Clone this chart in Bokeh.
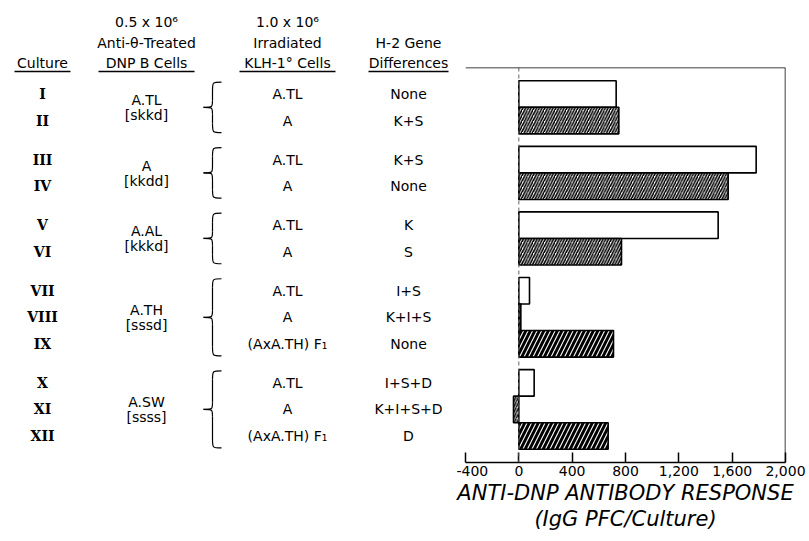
from bokeh.plotting import figure
from bokeh.models import (ColumnDataSource, FactorRange, Range1d, Span, LinearAxis,
                          FixedTicker, NumeralTickFormatter, Title)
from bokeh.layouts import row
from bokeh.embed import file_html
from bokeh.resources import INLINE
from bokeh.core.properties import value

# ---------------- data ----------------
cultures = ["I", "II", "III", "IV", "V", "VI", "VII", "VIII", "IX", "X", "XI", "XII"]
group_ids = ["1", "1", "2", "2", "3", "3", "4", "4", "4", "5", "5", "5"]
b_cell_strains = ["A.TL", "A", "A.AL", "A.TH", "A.SW"]
b_cell_haplotypes = ["[skkd]", "[kkdd]", "[kkkd]", "[sssd]", "[ssss]"]
helper_cells = ["A.TL", "A", "A.TL", "A", "A.TL", "A", "A.TL", "A", "(AxA.TH) F\u2081",
                "A.TL", "A", "(AxA.TH) F\u2081"]
gene_differences = ["None", "K+S", "K+S", "None", "K", "S", "I+S", "K+I+S", "None",
                    "I+S+D", "K+I+S+D", "D"]
response = [730, 750, 1780, 1570, 1495, 770, 80, 15, 710, 115, -40, 670]
x_ticks = [-400, 0, 400, 800, 1200, 1600, 2000]

header_culture = "Culture"
header_b = ["0.5 x 10\u2076", "Anti-\u03b8-Treated", "DNP B Cells"]
header_helper = ["1.0 x 10\u2076", "Irradiated", "KLH-1\u00b0 Cells"]
header_genes = ["H-2 Gene", "Differences"]
x_title = ["ANTI-DNP ANTIBODY RESPONSE", "(IgG PFC/Culture)"]

# ---------------- layout constants ----------------
H = 538
W_LEFT, W_RIGHT = 456, 350
PAGE_X0, PAGE_Y0 = 0, 0
FRAME_LEFT, FRAME_RIGHT = 465, 785
FRAME_TOP, FRAME_BOTTOM = 67, 462
GROUP_PAD, PAD_EACH = 0.47, 0.5
FONT = "DejaVu Sans"

group_order = []
for gid in group_ids:
    if gid not in group_order:
        group_order.append(gid)
gidx = [group_order.index(g) for g in group_ids]
n_rows, n_groups = len(cultures), len(group_order)
span_units = n_rows + GROUP_PAD * (n_groups - 1)
slot = (FRAME_BOTTOM - FRAME_TOP) / (span_units + 2 * PAD_EACH)
row_y = [FRAME_TOP + slot * (PAD_EACH + i + 0.5 + GROUP_PAD * g) for i, g in enumerate(gidx)]

# ---------------- bar chart ----------------
factors = list(zip(group_ids, cultures))
yr = FactorRange(factors=list(reversed(factors)), factor_padding=0.0, group_padding=GROUP_PAD,
                 range_padding=PAD_EACH, range_padding_units="absolute")

styles = {
    "A.TL": ("white", " ", "black", 12, 1.0),
    "A": ("white", "/", "black", 5.5, 1.6),
}
dark = ("black", "/", "white", 9, 1.1)
fills, hatches, hcolors, hscales, hweights = [], [], [], [], []
for hc in helper_cells:
    st = styles.get(hc, dark)
    fills.append(st[0]); hatches.append(st[1]); hcolors.append(st[2])
    hscales.append(st[3]); hweights.append(st[4])

src = ColumnDataSource(dict(y=factors, v=response, fill=fills, hatch=hatches,
                            hcolor=hcolors, hscale=hscales, hweight=hweights))

x0_page = PAGE_X0 + W_LEFT
p = figure(width=W_RIGHT, height=H, x_range=Range1d(x_ticks[0], x_ticks[-1]), y_range=yr,
           output_backend="svg", toolbar_location=None, title=None,
           x_axis_location=None, y_axis_location=None,
           min_border_left=FRAME_LEFT - x0_page,
           min_border_right=x0_page + W_RIGHT - FRAME_RIGHT,
           min_border_top=FRAME_TOP - PAGE_Y0, min_border_bottom=PAGE_Y0 + H - FRAME_BOTTOM)
p.frame_align = False
p.grid.visible = False
p.outline_line_color = None
p.background_fill_color = "white"
p.border_fill_color = "white"

p.add_layout(Span(location=0, dimension="height", line_color="#666666",
                  line_dash="4 3", line_width=1))
p.hbar(y="y", left=0, right="v", height=1.0, source=src,
       fill_color="fill", hatch_pattern="hatch", hatch_color="hcolor",
       hatch_scale="hscale", hatch_weight="hweight",
       line_color="black", line_width=1.6)

xaxis = LinearAxis(ticker=FixedTicker(ticks=x_ticks),
                   formatter=NumeralTickFormatter(format="0,0"),
                   major_tick_in=10, major_tick_out=0, minor_tick_line_color=None,
                   axis_line_width=1.5, major_tick_line_width=1.5,
                   major_label_text_font=FONT, major_label_text_font_size="14px",
                   major_label_text_color="black", major_label_standoff=3)
p.add_layout(xaxis, "below")

# frame border: top and right edges
p.add_layout(Span(location=span_units + PAD_EACH, dimension="width",
                  line_color="black", line_width=1.5))
p.add_layout(Span(location=x_ticks[-1], dimension="height", line_color="black", line_width=1.5))

for txt in x_title:
    p.add_layout(Title(text=txt, align="center", text_font=FONT, text_font_style="italic",
                       text_font_size="21px", text_color="black", standoff=0), "below")

# ---------------- table ----------------
t = figure(width=W_LEFT, height=H, x_range=Range1d(PAGE_X0, PAGE_X0 + W_LEFT),
           y_range=Range1d(PAGE_Y0 + H, PAGE_Y0), output_backend="svg", toolbar_location=None,
           title=None, x_axis_location=None, y_axis_location=None, min_border=0)
t.frame_align = False
t.grid.visible = False
t.outline_line_color = None
t.background_fill_color = "white"
t.border_fill_color = "white"

X_NUM, X_B, X_BR, X_HELP, X_GENE = 42, 146, 212, 287, 408
HDR_Y = [21, 42, 62]
UL_Y = 71

# numerals
t.text(x=[X_NUM] * n_rows, y=row_y, text=cultures, text_font=value("DejaVu Serif"),
       text_font_style="bold", text_font_size="14px", text_align="center",
       text_baseline="middle", text_color="black")

# helper and gene columns
t.text(x=[X_HELP] * n_rows, y=row_y, text=helper_cells, text_font=value(FONT),
       text_font_size="14px", text_align="center", text_baseline="middle", text_color="black")
t.text(x=[X_GENE] * n_rows, y=row_y, text=gene_differences, text_font=value(FONT),
       text_font_size="14px", text_align="center", text_baseline="middle", text_color="black")

# B cell groups + braces
bx, by, btxt = [], [], []
bz = dict(x0=[], y0=[], x1=[], y1=[], cx0=[], cy0=[], cx1=[], cy1=[])
sx0, sy0, sx1, sy1 = [], [], [], []
for g, gid in enumerate(group_order):
    ys = [row_y[i] for i in range(n_rows) if group_ids[i] == gid]
    yc = (ys[0] + ys[-1]) / 2
    bx += [X_B, X_B]; by += [yc - 7, yc + 8]
    btxt += [b_cell_strains[g], b_cell_haplotypes[g]]
    top, bot = ys[0] - 12, ys[-1] + 12
    xr, xm, xl = X_BR + 9, X_BR, X_BR - 9
    for (a, b, c) in [((xr, top), (xm, top + 9), (xm, top)),
                      ((xm, yc - 7), (xl, yc), (xm, yc)),
                      ((xl, yc), (xm, yc + 7), (xm, yc)),
                      ((xm, bot - 9), (xr, bot), (xm, bot))]:
        bz["x0"].append(a[0]); bz["y0"].append(a[1])
        bz["x1"].append(b[0]); bz["y1"].append(b[1])
        bz["cx0"].append(c[0]); bz["cy0"].append(c[1])
        bz["cx1"].append(c[0]); bz["cy1"].append(c[1])
    sx0 += [xm, xm]; sy0 += [top + 9, yc + 7]; sx1 += [xm, xm]; sy1 += [yc - 7, bot - 9]

t.text(x=bx, y=by, text=btxt, text_font=value(FONT), text_font_size="14px",
       text_align="center", text_baseline="middle", text_color="black")
t.bezier(source=ColumnDataSource(bz), x0="x0", y0="y0", x1="x1", y1="y1",
         cx0="cx0", cy0="cy0", cx1="cx1", cy1="cy1", line_color="black", line_width=1.2)
t.segment(x0=sx0, y0=sy0, x1=sx1, y1=sy1, line_color="black", line_width=1.2)

# headers
hx = [X_NUM] + [X_B] * 3 + [X_HELP] * 3 + [X_GENE] * 2
hy = [HDR_Y[2]] + HDR_Y + HDR_Y + HDR_Y[1:]
htxt = [header_culture] + header_b + header_helper + header_genes
t.text(x=hx, y=hy, text=htxt, text_font=value(FONT), text_font_size="14px",
       text_align="center", text_baseline="middle", text_color="black")
ul_half = [28, 48, 48, 40]
ul_x = [X_NUM, X_B, X_HELP, X_GENE]
t.segment(x0=[c - w for c, w in zip(ul_x, ul_half)], y0=[UL_Y] * 4,
          x1=[c + w for c, w in zip(ul_x, ul_half)], y1=[UL_Y] * 4,
          line_color="black", line_width=1.3)

layout = row(t, p)
open("out.html", "w").write(file_html(layout, INLINE))
